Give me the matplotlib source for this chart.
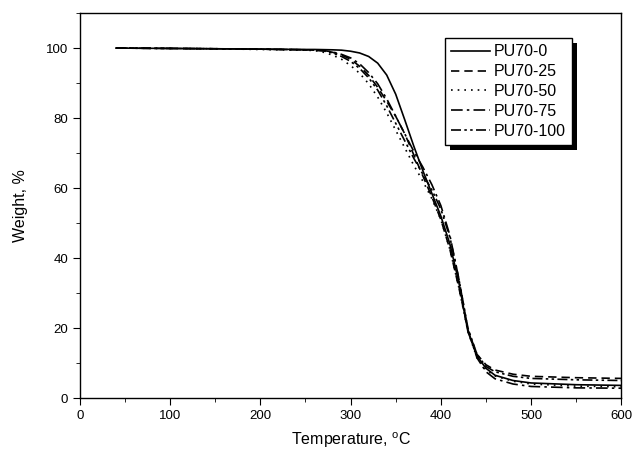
import numpy as np
import matplotlib
matplotlib.use("Agg")
import matplotlib.pyplot as plt
from matplotlib.ticker import MultipleLocator
from matplotlib.patches import Rectangle

plt.rcParams['font.family'] = ['Liberation Sans', 'DejaVu Sans']
plt.rcParams['mathtext.fontset'] = 'custom'
plt.rcParams['mathtext.rm'] = 'Liberation Sans'

# Temperature grid (deg C) shared by all curves
temp = [40, 100, 150, 200, 250, 260, 270, 280, 290, 300, 310, 320, 330, 340,
        350, 360, 370, 380, 390, 400, 410, 420, 430, 440, 450, 460, 480, 500,
        550, 600]

# Weight (%)
pu70_0 = [100, 99.9, 99.8, 99.7, 99.6, 99.6, 99.55, 99.5, 99.4, 99.1, 98.6,
          97.6, 95.7, 92.3, 86.8, 79.5, 72.0, 65.0, 58.5, 52.0, 44.0, 33.0,
          19.0, 12.0, 8.5, 6.5, 5.0, 4.3, 3.8, 3.6]
pu70_25 = [100, 99.9, 99.8, 99.7, 99.5, 99.4, 99.3, 98.8, 98.0, 96.8, 94.8,
           92.2, 88.8, 84.8, 80.5, 75.5, 69.5, 63.5, 57.5, 51.0, 42.5, 31.5,
           19.5, 12.5, 9.5, 8.0, 6.8, 6.2, 5.8, 5.6]
pu70_50 = [100, 99.9, 99.8, 99.6, 99.4, 99.3, 98.8, 98.0, 96.8, 95.0, 92.8,
           89.8, 86.0, 81.5, 76.5, 71.5, 66.5, 62.0, 57.0, 51.0, 42.5, 31.5,
           19.0, 11.5, 8.0, 6.3, 4.8, 4.0, 3.4, 3.2]
pu70_75 = [100, 99.9, 99.8, 99.7, 99.5, 99.4, 99.3, 98.9, 98.2, 97.2, 95.5,
           93.0, 89.8, 85.5, 80.5, 75.5, 70.5, 66.0, 61.0, 55.0, 46.5, 34.0,
           19.5, 11.5, 7.5, 5.5, 4.0, 3.3, 2.9, 2.8]
pu70_100 = [100, 99.9, 99.8, 99.7, 99.5, 99.4, 99.2, 98.6, 97.6, 96.2, 94.2,
            91.5, 88.0, 83.5, 78.5, 73.5, 68.5, 64.0, 59.5, 54.0, 46.0, 34.0,
            20.0, 12.5, 9.0, 7.5, 6.2, 5.6, 5.2, 5.0]

labels = ['PU70-0', 'PU70-25', 'PU70-50', 'PU70-75', 'PU70-100']
series = [pu70_0, pu70_25, pu70_50, pu70_75, pu70_100]
styles = ['-', (0, (5, 3)), (0, (1, 3)), (0, (7, 2.5, 1.5, 2.5)),
          (0, (6, 2, 1.5, 2, 1.5, 2))]

fig = plt.figure(figsize=(6.34, 4.51), dpi=100)
ax = fig.add_axes([0.126, 0.1175, 0.854, 0.8535])

for w, lab, ls in zip(series, labels, styles):
    ax.plot(temp, w, color='black', linestyle=ls, linewidth=1.2, label=lab)

ax.set_xlim(0, 600)
ax.set_ylim(0, 110)
ax.xaxis.set_major_locator(MultipleLocator(100))
ax.xaxis.set_minor_locator(MultipleLocator(50))
ax.yaxis.set_major_locator(MultipleLocator(20))
ax.yaxis.set_minor_locator(MultipleLocator(10))
ax.tick_params(which='both', direction='out', top=False, right=False,
               labelsize=9.5)
ax.tick_params(which='major', length=5)
ax.tick_params(which='minor', length=3)
for s in ax.spines.values():
    s.set_linewidth(1.0)

ax.set_xlabel('Temperature, $^{\\mathrm{o}}$C', fontsize=11.5, labelpad=6)
ax.set_ylabel('Weight, %', fontsize=11.5, labelpad=13)

leg = ax.legend(loc='upper right', bbox_to_anchor=(0.909, 0.935),
                borderaxespad=0, fancybox=False, edgecolor='black',
                framealpha=1, fontsize=11.5, handlelength=2.4,
                labelspacing=0.3, handletextpad=0.25, borderpad=0.4)
leg.get_frame().set_linewidth(1.0)

# solid black drop shadow like the original legend
fig.canvas.draw()
bb = leg.get_window_extent().transformed(fig.transFigure.inverted())
dx, dy = 5 / 634, 5 / 451
ax.add_patch(Rectangle((bb.x0 + dx, bb.y0 - dy), bb.width, bb.height,
                       transform=fig.transFigure, facecolor='black',
                       edgecolor='none', zorder=4, clip_on=False))

fig.savefig('out.png', dpi=100)
